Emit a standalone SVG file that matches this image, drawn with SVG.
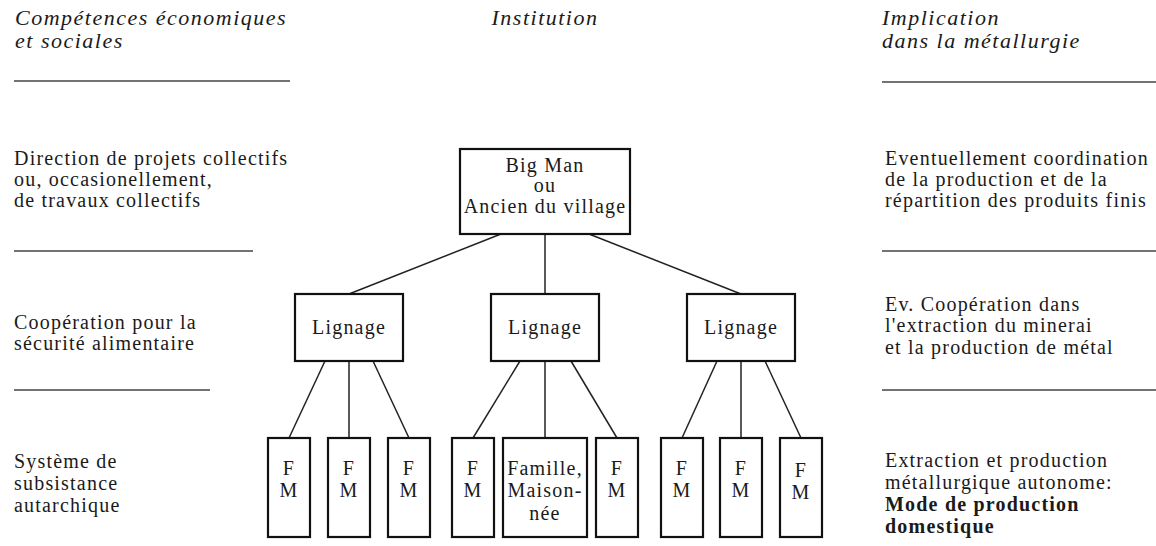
<svg xmlns="http://www.w3.org/2000/svg" width="1156" height="546" viewBox="0 0 1156 546">
<style>
.t{font-family:"Liberation Serif","Times New Roman",serif;font-size:20px;letter-spacing:1.2px;fill:#1a1a1a}
.h{font-family:"Liberation Serif","Times New Roman",serif;font-size:22px;font-style:italic;letter-spacing:1.5px;fill:#1a1a1a}
.b{font-weight:bold}
.c{text-anchor:middle}
.box{fill:#fff;stroke:#111;stroke-width:2.2}
.rule{stroke:#444;stroke-width:1.6}
.con{stroke:#222;stroke-width:1.5;fill:none}
</style>
<rect width="1156" height="546" fill="#fff"/>
<g id="headers">
<text class="h" x="15" y="25">Compétences économiques</text>
<text class="h" x="15" y="48">et sociales</text>
<text class="h c" x="545" y="25">Institution</text>
<text class="h" x="882" y="25">Implication</text>
<text class="h" x="882" y="48">dans la métallurgie</text>
</g>
<g id="rules">
<line class="rule" x1="14" y1="81" x2="290" y2="81"/>
<line class="rule" x1="882" y1="82" x2="1156" y2="82"/>
<line class="rule" x1="14" y1="251" x2="253" y2="251"/>
<line class="rule" x1="882" y1="251" x2="1156" y2="251"/>
<line class="rule" x1="14" y1="390" x2="210" y2="390"/>
<line class="rule" x1="882" y1="390" x2="1156" y2="390"/>
</g>
<g id="left-texts">
<text class="t" x="14" y="165">Direction de projets collectifs</text>
<text class="t" x="14" y="186">ou, occasionellement,</text>
<text class="t" x="14" y="207">de travaux collectifs</text>
<text class="t" x="14" y="329">Coopération pour la</text>
<text class="t" x="14" y="350">sécurité alimentaire</text>
<text class="t" x="14" y="468">Système de</text>
<text class="t" x="14" y="490">subsistance</text>
<text class="t" x="14" y="512">autarchique</text>
</g>
<g id="right-texts">
<text class="t" x="885" y="165">Eventuellement coordination</text>
<text class="t" x="885" y="186">de la production et de la</text>
<text class="t" x="885" y="207">répartition des produits finis</text>
<text class="t" x="885" y="311">Ev. Coopération dans</text>
<text class="t" x="885" y="332">l'extraction du minerai</text>
<text class="t" x="885" y="354">et la production de métal</text>
<text class="t" x="885" y="467">Extraction et production</text>
<text class="t" x="885" y="489">métallurgique autonome:</text>
<text class="t b" x="885" y="511">Mode de production</text>
<text class="t b" x="885" y="533">domestique</text>
</g>
<g id="connectors">
<line class="con" x1="501" y1="234" x2="349" y2="294"/>
<line class="con" x1="545" y1="234" x2="545" y2="294"/>
<line class="con" x1="589" y1="234" x2="741" y2="294"/>
<line class="con" x1="325" y1="361" x2="289" y2="438"/>
<line class="con" x1="349" y1="361" x2="349" y2="438"/>
<line class="con" x1="373" y1="361" x2="409" y2="438"/>
<line class="con" x1="520" y1="361" x2="473" y2="438"/>
<line class="con" x1="545" y1="361" x2="545" y2="438"/>
<line class="con" x1="571" y1="361" x2="617" y2="438"/>
<line class="con" x1="717" y1="361" x2="682" y2="438"/>
<line class="con" x1="741" y1="361" x2="741" y2="438"/>
<line class="con" x1="765" y1="361" x2="801" y2="438"/>
</g>
<g id="bigman">
<rect class="box" x="460" y="149" width="170" height="85"/>
<text class="t c" x="545" y="172">Big Man</text>
<text class="t c" x="545" y="192">ou</text>
<text class="t c" x="545" y="213">Ancien du village</text>
</g>
<g id="lignage1">
<rect class="box" x="295" y="294" width="108" height="67"/>
<text class="t c" x="349" y="334">Lignage</text>
</g>
<g id="lignage2">
<rect class="box" x="491" y="294" width="108" height="67"/>
<text class="t c" x="545" y="334">Lignage</text>
</g>
<g id="lignage3">
<rect class="box" x="687" y="294" width="108" height="67"/>
<text class="t c" x="741" y="334">Lignage</text>
</g>
<g id="fm1"><rect class="box" x="268" y="438" width="42" height="99"/><text class="t c" x="289" y="475">F</text><text class="t c" x="289" y="497">M</text></g>
<g id="fm2"><rect class="box" x="328" y="438" width="42" height="99"/><text class="t c" x="349" y="475">F</text><text class="t c" x="349" y="497">M</text></g>
<g id="fm3"><rect class="box" x="388" y="438" width="42" height="99"/><text class="t c" x="409" y="475">F</text><text class="t c" x="409" y="497">M</text></g>
<g id="fm4"><rect class="box" x="452" y="438" width="42" height="99"/><text class="t c" x="473" y="475">F</text><text class="t c" x="473" y="497">M</text></g>
<g id="famille"><rect class="box" x="503" y="438" width="84" height="99"/><text class="t c" x="545" y="475">Famille,</text><text class="t c" x="545" y="497">Maison-</text><text class="t c" x="545" y="520">née</text></g>
<g id="fm6"><rect class="box" x="596" y="438" width="42" height="99"/><text class="t c" x="617" y="475">F</text><text class="t c" x="617" y="497">M</text></g>
<g id="fm7"><rect class="box" x="661" y="438" width="42" height="99"/><text class="t c" x="682" y="475">F</text><text class="t c" x="682" y="497">M</text></g>
<g id="fm8"><rect class="box" x="720" y="438" width="42" height="99"/><text class="t c" x="741" y="475">F</text><text class="t c" x="741" y="497">M</text></g>
<g id="fm9"><rect class="box" x="780" y="438" width="42" height="99"/><text class="t c" x="801" y="477">F</text><text class="t c" x="801" y="499">M</text></g>
</svg>
